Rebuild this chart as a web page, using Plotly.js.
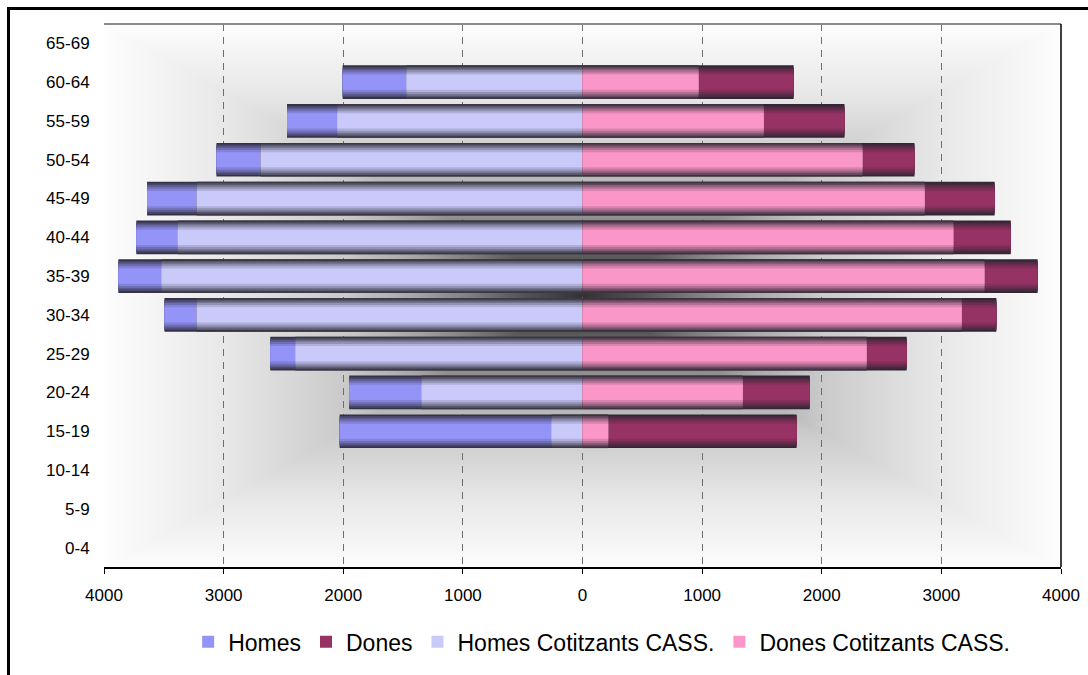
<!DOCTYPE html>
<html>
<head>
<meta charset="utf-8">
<script src="https://cdn.plot.ly/plotly-3.0.1.min.js"></script>
<style>
html,body{margin:0;padding:0;background:#fff;}
#chart{width:1088px;height:675px;}
</style>
</head>
<body>
<div id="chart"></div>
<script>
// ---- data ----
const ageGroups = ['0-4','5-9','10-14','15-19','20-24','25-29','30-34','35-39','40-44','45-49','50-54','55-59','60-64','65-69'];
const homes      = [0,0,0,2030,1950,2610,3495,3880,3730,3640,3060,2470,2005,0];
const homesCot   = [0,0,0, 260,1346,2400,3225,3520,3385,3225,2690,2050,1472,0];
const dones      = [0,0,0,1790,1900,2710,3460,3805,3580,3445,2775,2190,1765,0];
const donesCot   = [0,0,0, 215,1340,2375,3170,3360,3100,2860,2340,1515, 970,0];
const xTickVals  = [-4000,-3000,-2000,-1000,0,1000,2000,3000,4000];
const xTickText  = ['4000','3000','2000','1000','0','1000','2000','3000','4000'];

// ---- styling ----
const mainColors = {
  'Homes': [148,148,248],
  'Dones': [150,50,100],
  'Homes Cotitzants CASS.': [202,202,250],
  'Dones Cotitzants CASS.': [250,150,200]
};
const dark = [38,36,46];
const barW = 0.87;
const layerW = [1.0,0.9,0.8,0.7,0.58,0.45];
const layerMix = [0.88,0.7,0.52,0.34,0.16,0];

function mix(c, d, f){
  const r = c.map((v,i)=>Math.round(v*(1-f)+d[i]*f));
  return 'rgb('+r.join(',')+')';
}

function layers(name, vals, sign, rank){
  const out = [];
  layerW.forEach((w,i)=>{
    out.push({
      type:'bar', orientation:'h',
      y: ageGroups,
      x: vals.map(v=>sign*v),
      width: barW*w,
      marker:{color: mix(mainColors[name], dark, layerMix[i]), line:{width:0}},
      name: name,
      legendgroup: name,
      showlegend: i===layerW.length-1,
      legendrank: rank,
      hoverinfo: i===layerW.length-1 ? 'y+name' : 'skip'
    });
  });
  return out;
}

const traces = [].concat(
  layers('Homes', homes, -1, 1),
  layers('Dones', dones, 1, 2),
  layers('Homes Cotitzants CASS.', homesCot, -1, 3),
  layers('Dones Cotitzants CASS.', donesCot, 1, 4)
);

// ---- background gradient (rectangular, from center) ----
function makeBg(W,H){
  const cv = document.createElement('canvas');
  cv.width = W; cv.height = H;
  const ctx = cv.getContext('2d');
  const img = ctx.createImageData(W,H);
  const stops = [[0,0x33],[0.12,0x52],[0.23,0x7c],[0.35,0xa6],[0.5,0xca],[0.75,0xe8],[1,0xfd]];
  function g(t){
    if(t>=1) return stops[stops.length-1][1];
    for(let k=1;k<stops.length;k++){
      if(t<=stops[k][0]){
        const a=stops[k-1], b=stops[k];
        const f=(t-a[0])/(b[0]-a[0]);
        return a[1]+(b[1]-a[1])*f;
      }
    }
    return 0xfd;
  }
  const cx=W/2, cy=H/2;
  for(let y=0;y<H;y++){
    for(let x=0;x<W;x++){
      const t=Math.max(Math.abs(x-cx)/cx, Math.abs(y-cy)/cy);
      const v=Math.round(g(t));
      const p=(y*W+x)*4;
      img.data[p]=v; img.data[p+1]=v; img.data[p+2]=v; img.data[p+3]=255;
    }
  }
  ctx.putImageData(img,0,0);
  return cv.toDataURL('image/png');
}

const mL=104, mR=27, mT=24, mB=106;
const pw=1088-mL-mR, ph=675-mT-mB;
const bg = makeBg(pw, ph);

const font = 'Liberation Sans, Arial, sans-serif';

const layout = {
  width:1088, height:675,
  margin:{l:mL, r:mR, t:mT, b:mB, pad:0},
  paper_bgcolor:'#ffffff',
  plot_bgcolor:'rgba(0,0,0,0)',
  barmode:'overlay',
  showlegend:true,
  font:{family:font, color:'#000', size:17},
  xaxis:{
    range:[-4000,4000],
    tickmode:'array', tickvals:xTickVals, ticktext:xTickText,
    showgrid:true, gridcolor:'#6e6e6e', gridwidth:1, griddash:'7px,6px',
    zeroline:false,
    showline:true, linecolor:'#000', linewidth:1.5,
    ticks:'outside', ticklen:5, tickcolor:'#000', tickwidth:1,
    ticklabelstandoff:7,
    tickfont:{family:font, size:17, color:'#000'},
    fixedrange:true
  },
  yaxis:{
    type:'category', categoryorder:'array', categoryarray:ageGroups,
    range:[-0.5,13.5],
    showgrid:false, zeroline:false, showline:false,
    ticks:'outside', ticklen:10, tickcolor:'rgba(0,0,0,0)',
    tickfont:{family:font, size:17, color:'#000'},
    fixedrange:true
  },
  legend:{
    orientation:'h',
    x:0.52, xanchor:'center',
    y:(569-644)/545, yanchor:'middle',
    font:{family:font, size:23, color:'#000'},
    bgcolor:'rgba(0,0,0,0)',
    traceorder:'normal'
  },
  images:[{
    source:bg, xref:'paper', yref:'paper',
    x:0, y:1, sizex:1, sizey:1, xanchor:'left', yanchor:'top',
    sizing:'stretch', layer:'below'
  }],
  shapes:[
    {type:'line', xref:'paper', yref:'paper', x0:0, x1:1, y0:1, y1:1, line:{color:'#8a8a8a', width:2}},
    {type:'line', xref:'paper', yref:'paper', x0:1, x1:1, y0:0, y1:1, line:{color:'#000', width:1.5}},
    {type:'rect', xref:'paper', yref:'paper',
     x0:(8.5-mL)/pw, x1:(1095-mL)/pw, y0:(569-690)/ph, y1:(569-8.5)/ph,
     line:{color:'#000', width:3}, fillcolor:'rgba(0,0,0,0)'}
  ]
};

Plotly.newPlot('chart', traces, layout, {displayModeBar:false, staticPlot:true});
</script>
</body>
</html>
